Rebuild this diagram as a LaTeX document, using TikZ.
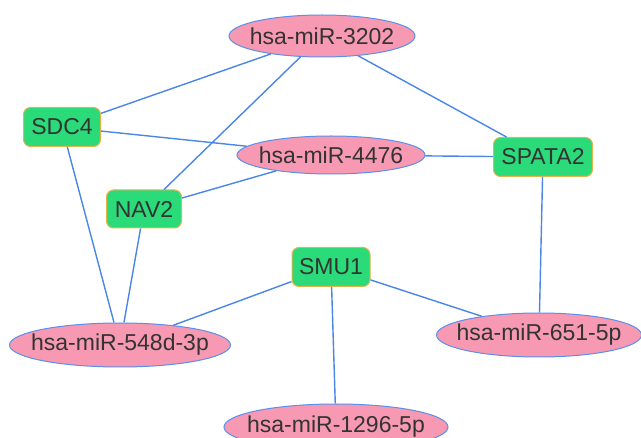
\documentclass[tikz,border=0pt]{standalone}
\usepackage{fontspec}
\setmainfont{Liberation Sans}
\usetikzlibrary{shapes.geometric}
\definecolor{mirfill}{HTML}{F799B2}
\definecolor{mirline}{HTML}{5B8FEA}
\definecolor{genefill}{HTML}{2BDB7A}
\definecolor{geneline}{HTML}{E2B44C}
\definecolor{edgecol}{HTML}{4A86E8}
\definecolor{txt}{HTML}{333333}
% label of fixed-size ellipse: width does not enlarge the shape
\newcommand{\mirlabel}[1]{\makebox[0pt]{#1}}
\begin{document}
\begin{tikzpicture}[x=1pt,y=-1pt,
  mirna/.style={ellipse,draw=mirline,fill=mirfill,line width=1pt,inner sep=0pt,
    font=\fontsize{23}{26}\selectfont,text=txt},
  gene/.style={rectangle,rounded corners=7pt,draw=geneline,fill=genefill,line width=1pt,
    inner sep=0pt,font=\fontsize{23}{26}\selectfont,text=txt},
  link/.style={draw=edgecol,line width=1.4pt}]
\useasboundingbox (0,0) rectangle (641,438);
\clip (0,0) rectangle (641,438);
% miRNA nodes
\node[mirna,minimum width=186pt,minimum height=42pt] (m3202) at (322,36) {\mirlabel{hsa-miR-3202}};
\node[mirna,minimum width=188pt,minimum height=38pt] (m4476) at (331,155) {\mirlabel{hsa-miR-4476}};
\node[mirna,minimum width=221pt,minimum height=44pt] (m548) at (120,345) {\mirlabel{hsa-miR-548d-3p}};
\node[mirna,minimum width=205pt,minimum height=44pt] (m651) at (539,335) {\mirlabel{hsa-miR-651-5p}};
\node[mirna,minimum width=224pt,minimum height=46pt] (m1296) at (336,427) {\mirlabel{hsa-miR-1296-5p}};
% gene nodes
\node[gene,minimum width=77pt,minimum height=39pt] (sdc4) at (62,127) {SDC4};
\node[gene,minimum width=99pt,minimum height=39pt] (spata2) at (543,157) {SPATA2};
\node[gene,minimum width=75pt,minimum height=38pt] (nav2) at (144,209) {NAV2};
\node[gene,minimum width=78pt,minimum height=39pt] (smu1) at (331,267) {SMU1};
% interactions
\draw[link] (m3202) -- (sdc4);
\draw[link] (m3202) -- (nav2);
\draw[link] (m3202) -- (spata2);
\draw[link] (sdc4) -- (m4476);
\draw[link] (sdc4) -- (m548);
\draw[link] (nav2) -- (m4476);
\draw[link] (nav2) -- (m548);
\draw[link] (m4476) -- (spata2);
\draw[link] (spata2) -- (m651);
\draw[link] (smu1) -- (m548);
\draw[link] (smu1) -- (m651);
\draw[link] (smu1) -- (m1296);
\end{tikzpicture}
\end{document}
